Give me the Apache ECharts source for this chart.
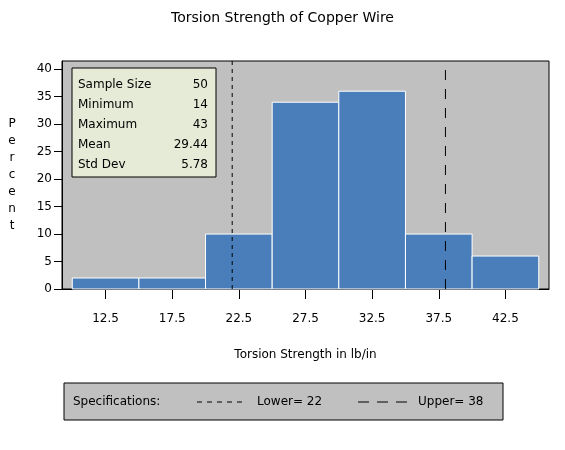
<!DOCTYPE html>
<html><head><meta charset="utf-8">
<script src="https://cdn.jsdelivr.net/npm/echarts@6/dist/echarts.min.js"></script>
<style>html,body{margin:0;padding:0;background:#fff}#c{width:565px;height:450px}</style>
</head><body><div id="c"></div>
<script>
const binMids = [12.5, 17.5, 22.5, 27.5, 32.5, 37.5, 42.5];
const binWidth = 5;
const percents = [2, 2, 10, 34, 36, 10, 6];
const xTicks = [12.5, 17.5, 22.5, 27.5, 32.5, 37.5, 42.5];
const yTicks = [0, 5, 10, 15, 20, 25, 30, 35, 40];
const statLabels = ['Sample Size', 'Minimum', 'Maximum', 'Mean', 'Std Dev'];
const statValues = ['50', '14', '43', '29.44', '5.78'];
const specLower = 22;
const specUpper = 38;

const FONT = 'DejaVu Sans';
const xMin = 9.23, xMax = 45.77, yMin = 0, yMax = 41.5;

const chart = echarts.init(document.getElementById('c'));

const statRows = [];
statLabels.forEach((lab, i) => {
  statRows.push({type:'text', x: 6, y: 17 + i*20,
    style:{text: lab, font: '12px "' + FONT + '"', fill:'#000', verticalAlign:'middle'}});
  statRows.push({type:'text', x: 136, y: 17 + i*20,
    style:{text: statValues[i], font: '12px "' + FONT + '"', fill:'#000', align:'right', verticalAlign:'middle'}});
});

chart.setOption({
  animation: false,
  backgroundColor: '#fff',
  title: {
    text: 'Torsion Strength of Copper Wire',
    left: 'center', top: 6,
    textStyle: {fontFamily: FONT, fontSize: 14, fontWeight: 'normal', color: '#000'}
  },
  grid: {left: 62, right: 16, top: 61, bottom: 161, show: true,
         backgroundColor: '#c0c0c0', borderColor: '#000', borderWidth: 1},
  xAxis: {
    type: 'value', min: xMin, max: xMax,
    name: 'Torsion Strength in lb/in', nameLocation: 'middle', nameGap: 60,
    nameTextStyle: {fontFamily: FONT, fontSize: 12, color: '#000'},
    axisLine: {show: true, onZero: false, lineStyle: {color: '#000'}},
    axisTick: {show: true, length: 10, customValues: xTicks, lineStyle: {color: '#000'}},
    axisLabel: {customValues: xTicks, margin: 24, fontFamily: FONT, fontSize: 12, color: '#000'},
    splitLine: {show: false}
  },
  yAxis: {
    type: 'value', min: yMin, max: yMax,
    name: 'P\ne\nr\nc\ne\nn\nt', nameLocation: 'middle', nameGap: 50, nameRotate: 0,
    nameTextStyle: {fontFamily: FONT, fontSize: 12, color: '#000', lineHeight: 17, align: 'center', verticalAlign: 'middle'},
    axisLine: {show: true, lineStyle: {color: '#000'}},
    axisTick: {show: true, length: 8, customValues: yTicks, lineStyle: {color: '#000'}},
    axisLabel: {customValues: yTicks, margin: 10, fontFamily: FONT, fontSize: 12, color: '#000'},
    splitLine: {show: false}
  },
  series: [
    {
      type: 'custom', z: 2,
      data: binMids.map((m, i) => [m, percents[i]]),
      encode: {x: 0, y: 1},
      renderItem: function (params, api) {
        const mid = api.value(0), v = api.value(1);
        const p1 = api.coord([mid - binWidth / 2, v]);
        const p2 = api.coord([mid + binWidth / 2, 0]);
        return {type: 'rect',
          shape: {x: p1[0], y: p1[1], width: p2[0] - p1[0], height: p2[1] - p1[1]},
          style: {fill: '#4a7ebb', stroke: '#fff', lineWidth: 1}};
      }
    },
    {
      type: 'line', z: 3, symbol: 'none', silent: true,
      data: [[specLower, yMin], [specLower, yMax]],
      lineStyle: {color: '#000', width: 1, type: [4, 4]}
    },
    {
      type: 'line', z: 3, symbol: 'none', silent: true,
      data: [[specUpper, yMin], [specUpper, yMax]],
      lineStyle: {color: '#000', width: 1, type: [10, 9]}
    }
  ],
  graphic: [
    {type: 'group', x: 72, y: 68, z: 100, children: [
      {type: 'rect', shape: {x: 0, y: 0, width: 144, height: 109},
       style: {fill: '#e6ebd7', stroke: '#000', lineWidth: 1}},
      ...statRows
    ]},
    {type: 'group', x: 64, y: 383, z: 100, children: [
      {type: 'rect', shape: {x: 0, y: 0, width: 439, height: 37},
       style: {fill: '#c0c0c0', stroke: '#000', lineWidth: 1}},
      {type: 'text', x: 9, y: 19, style: {text: 'Specifications:', font: '12px "' + FONT + '"', fill: '#000', verticalAlign: 'middle'}},
      {type: 'line', shape: {x1: 133, y1: 19, x2: 183, y2: 19}, style: {stroke: '#000', lineWidth: 1, lineDash: [5, 5]}},
      {type: 'text', x: 193, y: 19, style: {text: 'Lower= ' + specLower, font: '12px "' + FONT + '"', fill: '#000', verticalAlign: 'middle'}},
      {type: 'line', shape: {x1: 294, y1: 19, x2: 346, y2: 19}, style: {stroke: '#000', lineWidth: 1, lineDash: [11, 8]}},
      {type: 'text', x: 354, y: 19, style: {text: 'Upper= ' + specUpper, font: '12px "' + FONT + '"', fill: '#000', verticalAlign: 'middle'}}
    ]}
  ]
});
</script>
</body></html>
